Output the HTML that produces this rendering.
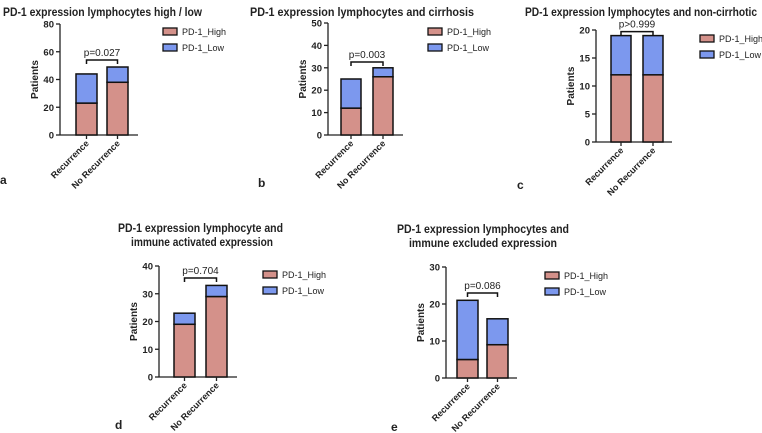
<!DOCTYPE html>
<html><head><meta charset="utf-8"><style>
body{margin:0;background:#fff;}
svg{display:block;font-family:"Liberation Sans",Arial,sans-serif;}
</style></head><body>
<svg id="fig" width="762" height="433" viewBox="0 0 762 433"></svg>
<script>
const categories = ["Recurrence", "No Recurrence"];
const highA = [23, 38], lowA = [21, 11];
const highB = [12, 26], lowB = [13, 4];
const highC = [12, 12], lowC = [7, 7];
const highD = [19, 29], lowD = [4, 4];
const highE = [5, 9], lowE = [16, 7];
const pValues = ["p=0.027", "p=0.003", "p>0.999", "p=0.704", "p=0.086"];
const yMaxes = [80, 50, 20, 40, 30];
const yTickSteps = [20, 10, 5, 10, 10];
const seriesNames = ["PD-1_High", "PD-1_Low"];

const NS = "http://www.w3.org/2000/svg";
const svg = document.getElementById("fig");
function el(tag, attrs, parent, text) {
  const e = document.createElementNS(NS, tag);
  for (const k in attrs) e.setAttribute(k, attrs[k]);
  if (text !== undefined) e.textContent = text;
  (parent || svg).appendChild(e);
  return e;
}
const HIGH = "#d4918a", LOW = "#7c98ee";

const panels = [
  {id:"a", high:highA, low:lowA, ax:60, top:24, bot:135, axEnd:138, bars:[76,107], bw:21, leg:[163,28], title:[["PD-1 expression lymphocytes high / low",3,199]], ty:16, lab:[0,184]},
  {id:"b", high:highB, low:lowB, ax:328, top:23, bot:135, axEnd:403, bars:[341,373], bw:20, leg:[428,28], title:[["PD-1 expression lymphocytes and cirrhosis",250,224]], ty:16, lab:[258,187]},
  {id:"c", high:highC, low:lowC, ax:596, top:30, bot:142, axEnd:672, bars:[611,643], bw:20, leg:[700,35], title:[["PD-1 expression lymphocytes and non-cirrhotic",525,232]], ty:16, lab:[517,189]},
  {id:"d", high:highD, low:lowD, ax:159, top:266, bot:377, axEnd:237, bars:[174,206], bw:21, leg:[263,271], title:[["PD-1 expression lymphocyte and",118,165],["immune activated expression",131,142]], ty:232, lab:[115,429]},
  {id:"e", high:highE, low:lowE, ax:446, top:267, bot:378, axEnd:517, bars:[457,487], bw:21, leg:[545,272], title:[["PD-1 expression lymphocytes and",397,172],["immune excluded expression",409,148]], ty:233, lab:[391,431]}
];

panels.forEach((p, i) => {
  const g = el("g", {});
  
  
  const ymax = yMaxes[i];
  const y = v => p.bot - (v / ymax) * (p.bot - p.top);
  p.title.forEach((t, k) => {
    const tt = el("text", {x:t[1], y:p.ty + k*14, "font-size":11.5, "font-weight":"bold", textLength:t[2], lengthAdjust:"spacingAndGlyphs", fill:"#222"}, g, t[0]);
    
    
  });
  const lb = el("text", {x:p.lab[0], y:p.lab[1], "font-size":12, "font-weight":"bold", fill:"#222"}, g, p.id);
  
  
  const ya = el("line", {x1:p.ax, y1:p.top, x2:p.ax, y2:p.bot, stroke:"#222", "stroke-width":1.3}, g);
  
  
  for (let v = 0; v <= ymax; v += yTickSteps[i]) {
    el("line", {x1:p.ax-4, y1:y(v), x2:p.ax, y2:y(v), stroke:"#222", "stroke-width":1.3}, g);
    const tl = el("text", {x:p.ax-6, y:y(v)+3.5, "font-size":9.5, "font-weight":"bold", "text-anchor":"end", fill:"#222"}, g, String(v));
    
    
  }
  const yt = el("text", {x:0, y:0, "font-size":10, "font-weight":"bold", "text-anchor":"middle", fill:"#222", transform:`translate(${p.ax-22},${(p.top+p.bot)/2}) rotate(-90)`}, g, "Patients");
  
  
  const xa = el("line", {x1:p.ax, y1:p.bot, x2:p.axEnd, y2:p.bot, stroke:"#222", "stroke-width":1.3}, g);
  
  
  categories.forEach((c, j) => {
    const bx = p.bars[j], cx = bx + p.bw/2;
    const h = p.high[j], l = p.low[j];
    const r1 = el("rect", {x:bx, y:y(h), width:p.bw, height:p.bot - y(h), fill:HIGH, stroke:"#111", "stroke-width":1.5}, g);
    
    
    const r2 = el("rect", {x:bx, y:y(h+l), width:p.bw, height:y(h) - y(h+l), fill:LOW, stroke:"#111", "stroke-width":1.5}, g);
    
    
    el("line", {x1:cx, y1:p.bot, x2:cx, y2:p.bot+4, stroke:"#222", "stroke-width":1.3}, g);
    const xl = el("text", {x:0, y:0, "font-size":9, "font-weight":"bold", "text-anchor":"end", fill:"#222", transform:`translate(${cx+3},${p.bot+9}) rotate(-45)`}, g, c);
    
    
  });
  const tot = p.high.map((h, j) => h + p.low[j]);
  let by = y(Math.max(...tot)) - 4;
  if (i === 0) by = 60;
  if (i === 1) by = 62;
  if (i === 3) by = 278;
  if (i === 4) by = 293;
  const c1 = p.bars[0] + p.bw/2, c2 = p.bars[1] + p.bw/2;
  const br = el("path", {d:`M${c1},${by+4} V${by} H${c2} V${by+4}`, fill:"none", stroke:"#111", "stroke-width":1.5}, g);
  
  
  const pv = el("text", {x:(c1+c2)/2, y:by-4, "font-size":10, "text-anchor":"middle", fill:"#222"}, g, pValues[i]);
  
  
  [HIGH, LOW].forEach((col, k) => {
    const ly = p.leg[1] + k*16;
    const lr = el("rect", {x:p.leg[0], y:ly, width:14, height:7, fill:col, stroke:"#111", "stroke-width":1.3}, g);
    
    
    const lt = el("text", {x:p.leg[0]+19, y:ly+7, "font-size":9, fill:"#222"}, g, seriesNames[k]);
    
    
  });
});
</script>
</body></html>
